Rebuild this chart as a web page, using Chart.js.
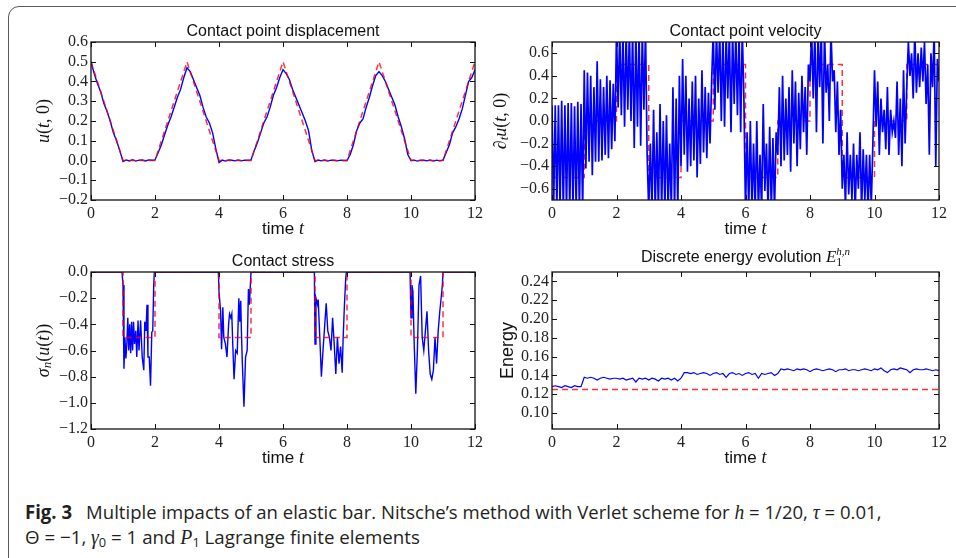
<!DOCTYPE html>
<html>
<head>
<meta charset="utf-8">
<script src="https://cdn.jsdelivr.net/npm/chart.js@4.4.1/dist/chart.umd.min.js"></script>
<style>
  body { margin: 0; background: #fff; width: 956px; height: 558px; overflow: hidden; position: relative; }
  .frame { position: absolute; left: 8px; top: 6px; width: 1000px; height: 570px; border: 1.5px solid #5a5a5a; border-radius: 11px; box-sizing: border-box; }
  canvas { position: absolute; }
  .cap { position: absolute; left: 25px; white-space: nowrap; font: 19px "Open Sans", "Noto Sans", sans-serif; line-height: 22px; color: #231f20; transform-origin: left center; }
  .cap b { font-weight: 700; }
  .cap i { font-family: "Liberation Serif", serif; font-size: 20px; }
  .cap sub { font-size: 13px; vertical-align: -3px; line-height: 0; }
</style>
</head>
<body>
<div class="frame"></div>
<canvas id="c1" width="490" height="240" style="left:0;top:0"></canvas>
<canvas id="c2" width="478" height="240" style="left:478px;top:0"></canvas>
<canvas id="c3" width="490" height="229" style="left:0;top:240px"></canvas>
<canvas id="c4" width="478" height="229" style="left:478px;top:240px"></canvas>
<div class="cap" id="cap1" style="top:501px"><b>Fig. 3</b>&ensp; Multiple impacts of an elastic bar. Nitsche’s method with Verlet scheme for <i>h</i> = 1/20, <i>τ</i> = 0.01,</div>
<div class="cap" id="cap2" style="top:526px">Θ = −1, <i>γ</i><sub>0</sub> = 1 and <i>P</i><sub>1</sub> Lagrange finite elements</div>
<script>
// ---- data ----
var timeTicks = [0, 2, 4, 6, 8, 10, 12];
var dispTicks = [-0.2, -0.1, 0, 0.1, 0.2, 0.3, 0.4, 0.5, 0.6];
var velTicks = [-0.6, -0.4, -0.2, 0, 0.2, 0.4, 0.6];
var stressTicks = [-1.2, -1.0, -0.8, -0.6, -0.4, -0.2, 0];
var energyTicks = [0.10, 0.12, 0.14, 0.16, 0.18, 0.20, 0.22, 0.24];

// displacement u(t,0), sampled every 0.1
var dispU = [
  0.50, 0.44, 0.39, 0.35, 0.29, 0.25, 0.20, 0.14, 0.10, 0.05, -0.005,
  0.003, -0.002, 0.004, -0.003, 0.002, 0.003, -0.002, 0.003, 0.001,
  0.003, 0.04, 0.08, 0.13, 0.18, 0.22, 0.27, 0.32, 0.36, 0.42, 0.47, 0.45, 0.41, 0.37, 0.33, 0.27, 0.22, 0.19, 0.14, 0.06, -0.01,
  0.002, -0.003, 0.003, 0.001, -0.002, 0.003, -0.002, 0.002, 0.001,
  0.003, 0.05, 0.09, 0.14, 0.19, 0.22, 0.27, 0.33, 0.37, 0.42, 0.46, 0.44, 0.41, 0.36, 0.32, 0.28, 0.24, 0.20, 0.15, 0.05, -0.005,
  0.002, -0.002, 0.003, -0.003, 0.002, 0.001, -0.002, 0.002, 0.0,
  0.0, 0.03, 0.08, 0.15, 0.19, 0.21, 0.27, 0.32, 0.38, 0.43, 0.45, 0.43, 0.40, 0.36, 0.32, 0.28, 0.22, 0.17, 0.11, 0.03, 0.0,
  0.002, -0.003, 0.002, 0.001, -0.002, 0.003, -0.003, 0.002, -0.002,
  0.002, 0.04, 0.08, 0.14, 0.17, 0.21, 0.26, 0.33, 0.40, 0.42, 0.46
];
var dispExactT = [0, 1, 2, 3, 4, 5, 6, 7, 8, 9, 10, 11, 12];
var dispExactU = [0.5, 0, 0, 0.5, 0, 0, 0.5, 0, 0, 0.5, 0, 0, 0.5];

// velocity, sampled every 0.05
var velV = [
  0.14, -0.8, 0.14, -0.8, 0.14, -0.8, 0.18, -0.8, 0.14, -0.8, 0.16, -0.8, 0.16, -0.8, 0.13, -0.8, 0.17, -0.8, 0.15, -0.8,
  0.45, -0.42, 0.43, -0.36, 0.40, -0.48, 0.30, -0.36, 0.53, -0.36, 0.37, -0.35, 0.30, -0.30, 0.40, -0.33, 0.36, -0.25, 0.33, -0.18,
  0.8, 0.12, 0.8, 0.05, 0.8, -0.05, 0.8, 0.10, 0.8, 0.0, 0.8, -0.24, 0.8, -0.05, 0.8, -0.22, 0.8, 0.10, 0.8, -0.3,
  -0.8, -0.2, -0.8, 0.10, -0.8, -0.1, -0.8, 0.15, -0.8, 0.0, -0.8, 0.05, -0.8, -0.2, -0.8, 0.3, -0.8, 0.2, -0.8, 0.4,
  -0.4, 0.55, -0.3, 0.4, -0.45, 0.2, -0.4, 0.35, -0.35, 0.4, -0.5, 0.2, -0.38, 0.45, -0.28, 0.3, -0.33, 0.25, -0.2, 0.35,
  0.8, 0.1, 0.8, 0.25, 0.8, 0.0, 0.8, -0.05, 0.8, 0.2, 0.8, -0.1, 0.8, 0.15, 0.8, 0.05, 0.8, -0.1, 0.8, 0.2,
  -0.8, -0.1, -0.8, 0.0, -0.8, -0.2, -0.8, 0.0, -0.8, -0.3, -0.8, 0.15, -0.62, -0.2, -0.8, -0.05, -0.8, -0.15, -0.8, -0.1,
  -0.3, 0.3, -0.4, 0.4, -0.35, 0.2, -0.3, 0.3, -0.45, 0.45, -0.2, 0.35, -0.4, 0.25, -0.25, 0.4, -0.1, 0.3, -0.3, 0.5,
  0.35, 0.8, 0.2, 0.8, -0.1, 0.8, 0.3, 0.8, -0.2, 0.8, 0.25, 0.5, 0.0, 0.8, 0.35, 0.45, -0.1, 0.35, -0.3, 0.1,
  -0.6, -0.3, -0.75, -0.1, -0.65, -0.3, -0.7, -0.2, -0.8, -0.3, -0.6, -0.1, -0.8, -0.25, -0.7, -0.3, -0.8, -0.3, -0.75, -0.2,
  0.45, -0.05, 0.35, -0.3, 0.2, -0.1, 0.1, -0.25, 0.3, -0.3, 0.1, -0.1, 0.0, -0.15, 0.35, -0.3, 0.2, -0.4, 0.45, -0.2,
  0.3, 0.7, 0.4, 0.6, 0.2, 0.8, 0.25, 0.6, 0.3, 0.65, 0.35, 0.7, 0.15, 0.5, -0.3, 0.6, 0.3, 0.8, -0.4, 0.55,
  0.35
];
var velExactT = [0, 1, 1, 2, 2, 3, 3, 4, 4, 5, 5, 6, 6, 7, 7, 8, 8, 9, 9, 10, 10, 11, 11, 12];
var velExactV = [-0.5, -0.5, 0, 0, 0.5, 0.5, -0.5, -0.5, 0, 0, 0.5, 0.5, -0.5, -0.5, 0, 0, 0.5, 0.5, -0.5, -0.5, 0, 0, 0.5, 0.5];

// contact stress
var stressT = [0, 0.97, 1.0, 1.03, 1.06, 1.09, 1.12, 1.15, 1.18, 1.21, 1.24, 1.27, 1.30, 1.33, 1.36, 1.40, 1.43, 1.47, 1.50, 1.55, 1.60, 1.65, 1.68, 1.72, 1.75, 1.78, 1.82, 1.86, 1.90, 1.93, 1.96, 1.98,
  3.98, 4.0, 4.05, 4.08, 4.12, 4.15, 4.2, 4.25, 4.3, 4.33, 4.37, 4.4, 4.43, 4.47, 4.52, 4.57, 4.62, 4.65, 4.68, 4.7, 4.73, 4.78, 4.83, 4.88, 4.92, 4.95, 4.98, 5.0,
  6.98, 7.0, 7.03, 7.08, 7.1, 7.15, 7.2, 7.25, 7.3, 7.35, 7.4, 7.45, 7.5, 7.55, 7.6, 7.65, 7.7, 7.75, 7.8, 7.85, 7.88, 7.92, 7.96, 7.98,
  9.97, 10.0, 10.03, 10.06, 10.1, 10.15, 10.2, 10.25, 10.3, 10.35, 10.4, 10.45, 10.5, 10.55, 10.6, 10.65, 10.7, 10.75, 10.8, 10.85, 10.9, 10.95, 10.98, 11.0, 12];
var stressS = [0, 0, -0.1, -0.74, -0.5, -0.66, -0.55, -0.35, -0.6, -0.4, -0.62, -0.38, -0.6, -0.38, -0.55, -0.45, -0.65, -0.37, -0.6, -0.37, -0.65, -0.75, -0.38, -0.45, -0.25, -0.65, -0.65, -0.87, -0.46, -0.45, -0.1, 0,
  0, -0.15, -0.3, -0.59, -0.27, -0.5, -0.55, -0.65, -0.4, -0.32, -0.35, -0.32, -0.55, -0.82, -0.6, -0.62, -0.2, -0.38, -0.22, -0.45, -0.7, -1.03, -0.65, -0.6, -0.13, -0.25, -0.1, 0,
  0, -0.55, -0.2, -0.25, -0.21, -0.5, -0.8, -0.6, -0.42, -0.24, -0.45, -0.5, -0.6, -0.35, -0.55, -0.78, -0.5, -0.7, -0.57, -0.77, -0.5, -0.25, -0.05, 0,
  0, -0.35, -0.1, -0.15, -0.55, -0.93, -0.6, -0.1, -0.03, -0.5, -0.6, -0.45, -0.3, -0.6, -0.78, -0.82, -0.75, -0.5, -0.7, -0.45, -0.3, -0.18, -0.1, 0, 0];
var stressExactT = [0, 1, 1, 2, 2, 4, 4, 5, 5, 7, 7, 8, 8, 10, 10, 11, 11, 12];
var stressExactS = [0, 0, -0.5, -0.5, 0, 0, -0.5, -0.5, 0, 0, -0.5, -0.5, 0, 0, -0.5, -0.5, 0, 0];

// discrete energy, sampled every 0.1
var energyE = [
  0.128, 0.129, 0.128, 0.127, 0.129, 0.128, 0.127, 0.129, 0.128, 0.128,
  0.138,
  0.137, 0.138, 0.137, 0.135, 0.137, 0.138, 0.137, 0.136, 0.137,
  0.137, 0.136, 0.137, 0.135, 0.136, 0.137, 0.133, 0.137, 0.136, 0.137, 0.135, 0.137, 0.136, 0.134, 0.137, 0.136, 0.137, 0.135, 0.137, 0.134,
  0.137, 0.143,
  0.143, 0.142, 0.143, 0.141, 0.142, 0.143, 0.142, 0.140, 0.142, 0.143, 0.141, 0.142, 0.138, 0.142, 0.143, 0.141, 0.142, 0.140, 0.142, 0.143, 0.141, 0.142, 0.137, 0.142, 0.141, 0.142, 0.143, 0.140,
  0.142, 0.147,
  0.146, 0.147, 0.146, 0.145, 0.147, 0.146, 0.147, 0.146, 0.144, 0.146, 0.147, 0.146, 0.145, 0.146, 0.147, 0.146, 0.144, 0.146, 0.146, 0.147, 0.145, 0.146, 0.146, 0.145, 0.146,
  0.147, 0.146, 0.145, 0.147, 0.146, 0.148, 0.145, 0.143, 0.146, 0.147, 0.146, 0.148, 0.147, 0.146, 0.143, 0.146, 0.147, 0.146, 0.146, 0.147, 0.146, 0.145, 0.146, 0.145
];
var energyExactT = [0, 12];
var energyExactE = [0.125, 0.125];

// ---- helpers ----
var SERIF = '"Liberation Serif", "DejaVu Serif", serif';
var SANS = '"Liberation Sans", Arial, sans-serif';

function timeGrid(n, dt) {
  return Array.from({ length: n }, function (_, i) { return Math.round(i * dt * 100) / 100; });
}
function pts(xs, ys) {
  return ys.map(function (y, i) { return { x: xs[i], y: y }; });
}
function fmt(d) {
  return function (v) {
    if (Math.abs(v) < 1e-9) v = 0;
    return (v < 0 ? '\u2212' : '') + Math.abs(v).toFixed(d);
  };
}

function drawRich(ctx, segs, cx, cy, rot) {
  ctx.save();
  var w = 0, prev = 0, pos = [];
  segs.forEach(function (s) {
    ctx.font = s.f;
    var sw = ctx.measureText(s.t).width;
    var x0 = s.back ? prev : w;
    pos.push(x0);
    prev = x0;
    w = Math.max(w, x0 + sw);
  });
  ctx.translate(cx, cy);
  if (rot) ctx.rotate(-Math.PI / 2);
  ctx.fillStyle = '#111';
  ctx.textBaseline = 'middle';
  ctx.textAlign = 'left';
  segs.forEach(function (s, i) {
    ctx.font = s.f;
    ctx.fillText(s.t, -w / 2 + pos[i], s.dy || 0);
  });
  ctx.restore();
}

var mplPlugin = {
  id: 'mpl',
  afterDraw: function (chart, args, o) {
    var ctx = chart.ctx, ca = chart.chartArea;
    ctx.save();
    ctx.strokeStyle = '#111';
    ctx.lineWidth = 1.3;
    ctx.strokeRect(ca.left, ca.top, ca.right - ca.left, ca.bottom - ca.top);
    ctx.lineWidth = 1;
    ctx.beginPath();
    chart.scales.x.ticks.forEach(function (t) {
      var px = Math.round(chart.scales.x.getPixelForValue(t.value)) + 0.5;
      ctx.moveTo(px, ca.bottom); ctx.lineTo(px, ca.bottom - 5);
      ctx.moveTo(px, ca.top); ctx.lineTo(px, ca.top + 5);
    });
    chart.scales.y.ticks.forEach(function (t) {
      var py = Math.round(chart.scales.y.getPixelForValue(t.value)) + 0.5;
      ctx.moveTo(ca.left, py); ctx.lineTo(ca.left + 5, py);
      ctx.moveTo(ca.right, py); ctx.lineTo(ca.right - 5, py);
    });
    ctx.stroke();
    ctx.restore();
    var mid = (ca.left + ca.right) / 2;
    drawRich(ctx, o.title, mid, ca.top - o.titleGap, false);
    drawRich(ctx, [{ t: 'time ', f: '17px ' + SANS }, { t: 't', f: 'italic 18px ' + SERIF }], mid, ca.bottom + 29, false);
    drawRich(ctx, o.ylabel, o.ylabelX, (ca.top + ca.bottom) / 2, true);
  }
};

function makeChart(id, c) {
  return new Chart(document.getElementById(id), {
    type: 'scatter',
    data: {
      datasets: [
        { data: c.exact, showLine: true, borderColor: 'rgba(255,0,0,0.8)', borderWidth: 1.5, borderDash: [6, 4], pointRadius: 0, order: c.redOrder },
        { data: c.blue, showLine: true, borderColor: '#0000ff', borderWidth: c.bw, pointRadius: 0, order: 1 }
      ]
    },
    options: {
      responsive: false,
      animation: false,
      devicePixelRatio: 1,
      layout: { padding: c.pad },
      plugins: {
        legend: { display: false },
        tooltip: { enabled: false },
        mpl: { title: c.title, titleGap: c.titleGap, ylabel: c.ylabel, ylabelX: c.ylabelX }
      },
      scales: {
        x: {
          type: 'linear', min: 0, max: 12,
          afterBuildTicks: function (s) { s.ticks = timeTicks.map(function (v) { return { value: v }; }); },
          afterFit: function (s) { s.height = 40; },
          grid: { display: false, drawTicks: false },
          border: { display: false },
          ticks: { padding: 4, maxRotation: 0, autoSkip: false, color: '#222', font: { family: SERIF, size: 16 }, callback: function (v) { return String(v); } }
        },
        y: {
          type: 'linear', min: c.ymin, max: c.ymax,
          afterBuildTicks: function (s) { s.ticks = c.yticks.map(function (v) { return { value: v }; }); },
          afterFit: function (s) { s.width = c.yw; },
          grid: { display: false, drawTicks: false },
          border: { display: false },
          ticks: { padding: 3, autoSkip: false, color: '#222', font: { family: SERIF, size: 16 }, callback: fmt(c.dec) }
        }
      }
    },
    plugins: [mplPlugin]
  });
}

var IT = 'italic 18px ' + SERIF, RM = '18px ' + SERIF, SUBI = 'italic 13px ' + SERIF;
var T16 = '16px ' + SANS;

makeChart('c1', {
  blue: pts(timeGrid(121, 0.1), dispU), exact: pts(dispExactT, dispExactU), bw: 1.4, redOrder: 0,
  ymin: -0.2, ymax: 0.6, yticks: dispTicks, dec: 1, yw: 91, pad: { left: 0, top: 42, right: 15, bottom: 0 },
  title: [{ t: 'Contact point displacement', f: T16 }], titleGap: 10,
  ylabel: [{ t: 'u', f: IT }, { t: '(', f: RM }, { t: 't', f: IT }, { t: ', 0)', f: RM }], ylabelX: 44
});
makeChart('c2', {
  blue: pts(timeGrid(241, 0.05), velV), exact: pts(velExactT, velExactV), bw: 1.7, redOrder: 2,
  ymin: -0.7, ymax: 0.7, yticks: velTicks, dec: 1, yw: 74, pad: { left: 0, top: 42, right: 17, bottom: 0 },
  title: [{ t: 'Contact point velocity', f: T16 }], titleGap: 10,
  ylabel: [{ t: '\u2202', f: IT }, { t: 't', f: SUBI, dy: 4 }, { t: 'u', f: IT }, { t: '(', f: RM }, { t: 't', f: IT }, { t: ', 0)', f: RM }], ylabelX: 23
});
makeChart('c3', {
  blue: pts(stressT, stressS), exact: pts(stressExactT, stressExactS), bw: 1.4, redOrder: 0,
  ymin: -1.2, ymax: 0, yticks: stressTicks, dec: 1, yw: 91, pad: { left: 0, top: 32, right: 15, bottom: 0 },
  title: [{ t: 'Contact stress', f: T16 }], titleGap: 10,
  ylabel: [{ t: '\u03c3', f: IT }, { t: 'n', f: SUBI, dy: 4 }, { t: '(', f: RM }, { t: 'u', f: IT }, { t: '(', f: RM }, { t: 't', f: IT }, { t: '))', f: RM }], ylabelX: 44
});
makeChart('c4', {
  blue: pts(timeGrid(121, 0.1), energyE), exact: pts(energyExactT, energyExactE), bw: 1.2, redOrder: 0,
  ymin: 0.083, ymax: 0.25, yticks: energyTicks, dec: 2, yw: 74, pad: { left: 0, top: 32, right: 17, bottom: 0 },
  title: [{ t: 'Discrete energy evolution ', f: T16 }, { t: 'E', f: 'italic 17px ' + SERIF }, { t: '1', f: '12px ' + SERIF, dy: 5 }, { t: 'h,n', f: 'italic 11px ' + SERIF, dy: -6, back: true }], titleGap: 14,
  ylabel: [{ t: 'Energy', f: '18px ' + SANS }], ylabelX: 30
});

// squeeze the caption to the condensed width of the original
[['cap1', 856], ['cap2', 395]].forEach(function (p) {
  var el = document.getElementById(p[0]);
  el.style.transform = 'scaleX(' + (p[1] / el.offsetWidth) + ')';
});
</script>
</body>
</html>
